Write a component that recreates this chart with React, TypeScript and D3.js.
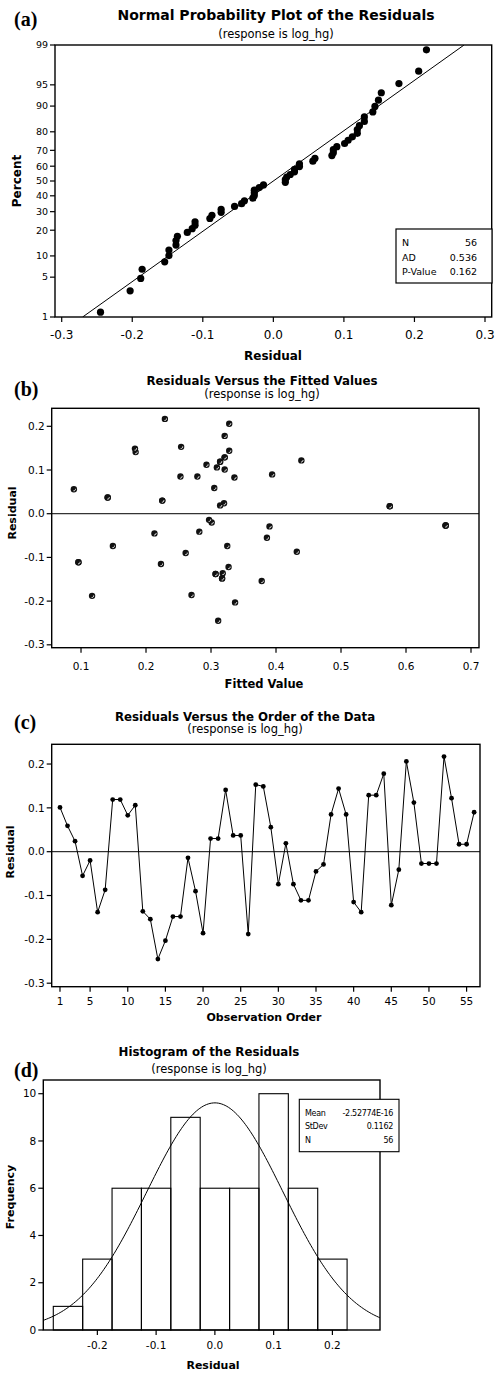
import React from "react";
import * as d3 from "d3";

// ---- data ----
const residuals = [
  0.101, 0.059, 0.024, -0.055, -0.020, -0.138, -0.087, 0.119, 0.119, 0.083,
  0.106, -0.136, -0.154, -0.245, -0.203, -0.148, -0.148, -0.014, -0.090, -0.186,
  0.030, 0.030, 0.141, 0.037, 0.037, -0.188, 0.153, 0.149, 0.056, -0.074,
  0.019, -0.074, -0.111, -0.111, -0.045, -0.029, 0.085, 0.144, 0.085, -0.115,
  -0.138, 0.129, 0.129, 0.178, -0.122, -0.041, 0.206, 0.112, -0.027, -0.027,
  -0.027, 0.217, 0.122, 0.017, 0.017, 0.090,
];
const fitted = [
  0.321, 0.305, 0.320, 0.386, 0.301, 0.307, 0.432, 0.314, 0.314, 0.336,
  0.309, 0.318, 0.378, 0.311, 0.337, 0.317, 0.317, 0.297, 0.261, 0.270,
  0.225, 0.225, 0.184, 0.141, 0.141, 0.117, 0.254, 0.183, 0.089, 0.149,
  0.314, 0.325, 0.096, 0.096, 0.213, 0.390, 0.253, 0.328, 0.279, 0.223,
  0.307, 0.321, 0.321, 0.321, 0.327, 0.282, 0.328, 0.293, 0.661, 0.661,
  0.661, 0.229, 0.439, 0.575, 0.575, 0.394,
];
const histMids = [-0.25, -0.2, -0.15, -0.1, -0.05, 0.0, 0.05, 0.1, 0.15, 0.2];
const histCounts = [1, 3, 6, 6, 9, 6, 6, 10, 6, 3];
const probTicks = [1, 5, 10, 20, 30, 40, 50, 60, 70, 80, 90, 95, 99];
const residTicksA = [-0.3, -0.2, -0.1, 0.0, 0.1, 0.2, 0.3];
const residTicksY = [-0.3, -0.2, -0.1, 0.0, 0.1, 0.2];
const fittedTicks = [0.1, 0.2, 0.3, 0.4, 0.5, 0.6, 0.7];
const orderTicks = [1, 5, 10, 15, 20, 25, 30, 35, 40, 45, 50, 55];
const freqTicks = [0, 2, 4, 6, 8, 10];
const histTicks = [-0.2, -0.1, 0.0, 0.1, 0.2];
const statsA = [["N", "56"], ["AD", "0.536"], ["P-Value", "0.162"]];
const statsD = [["Mean", "-2.52774E-16"], ["StDev", "0.1162"], ["N", "56"]];
const fitMean = 0;
const fitSd = 0.1162;
const binWidth = 0.05;

// inverse standard normal CDF (Acklam)
function probit(p: number): number {
  const a = [-39.69683028665376, 220.9460984245205, -275.9285104469687, 138.357751867269, -30.66479806614716, 2.506628277459239];
  const b = [-54.47609879822406, 161.5858368580409, -155.6989798598866, 66.80131188771972, -13.28068155288572];
  const c = [-0.007784894002430293, -0.3223964580411365, -2.400758277161838, -2.549732539343734, 4.374664141464968, 2.938163982698783];
  const d = [0.007784695709041462, 0.3224671290700398, 2.445134137142996, 3.754408661907416];
  const pl = 0.02425;
  let q, r;
  if (p < pl) {
    q = Math.sqrt(-2 * Math.log(p));
    return (((((c[0] * q + c[1]) * q + c[2]) * q + c[3]) * q + c[4]) * q + c[5]) / ((((d[0] * q + d[1]) * q + d[2]) * q + d[3]) * q + 1);
  } else if (p <= 1 - pl) {
    q = p - 0.5; r = q * q;
    return (((((a[0] * r + a[1]) * r + a[2]) * r + a[3]) * r + a[4]) * r + a[5]) * q / (((((b[0] * r + b[1]) * r + b[2]) * r + b[3]) * r + b[4]) * r + 1);
  } else {
    q = Math.sqrt(-2 * Math.log(1 - p));
    return -(((((c[0] * q + c[1]) * q + c[2]) * q + c[3]) * q + c[4]) * q + c[5]) / ((((d[0] * q + d[1]) * q + d[2]) * q + d[3]) * q + 1);
  }
}

const SANS = "'DejaVu Sans', Verdana, sans-serif";
const SERIF = "'Liberation Serif', 'Times New Roman', serif";

function Titles({ cx, title, tSize, tY, subY, tag, tagY }: any) {
  return (
    <g>
      <text x={cx} y={tY} textAnchor="middle" fontFamily={SANS} fontWeight="bold" fontSize={tSize}>{title}</text>
      <text x={cx} y={subY} textAnchor="middle" fontFamily={SANS} fontSize={11.5}>(response is log_hg)</text>
      <text x={14} y={tagY} fontFamily={SERIF} fontWeight="bold" fontSize={20}>{tag}</text>
    </g>
  );
}

function Frame({ L, R, T, B }: any) {
  return <rect x={L} y={T} width={R - L} height={B - T} fill="none" stroke="#000" strokeWidth={1.4} />;
}

function XTicks({ scale, ticks, B, fmt, size, labY }: any) {
  return (
    <g>
      {ticks.map((t: number) => (
        <g key={t}>
          <line x1={scale(t)} x2={scale(t)} y1={B} y2={B + 5} stroke="#000" strokeWidth={1.2} />
          <text x={scale(t)} y={labY} textAnchor="middle" fontFamily={SANS} fontSize={size}>{fmt(t)}</text>
        </g>
      ))}
    </g>
  );
}

function YTicks({ scale, ticks, L, fmt, size, labels }: any) {
  return (
    <g>
      {ticks.map((t: number, i: number) => (
        <g key={t}>
          <line x1={L - 5} x2={L} y1={scale(t)} y2={scale(t)} stroke="#000" strokeWidth={1.2} />
          <text x={L - 7} y={scale(t)} dy="0.35em" textAnchor="end" fontFamily={SANS} fontSize={size}>{labels ? labels[i] : fmt(t)}</text>
        </g>
      ))}
    </g>
  );
}

const f1 = (t: number) => (t < 0 ? "-" : "") + Math.abs(t).toFixed(1);

function PanelA() {
  const L = 55, R = 491.7, T = 45, B = 317;
  const x = d3.scaleLinear().domain([-0.3095, 0.3095]).range([L, R]);
  const zMax = probit(0.99);
  const y = d3.scaleLinear().domain([-zMax, zMax]).range([B, T]);
  const sorted = residuals.slice().sort((a, b) => a - b);
  const n = sorted.length;
  const pts = sorted.map((r, i) => ({ r, z: probit((i + 1 - 0.3) / (n + 0.4)) }));
  const line = d3.line<number>().x((z) => x(fitMean + fitSd * z)).y((z) => y(z));
  return (
    <g>
      <Titles cx={276} title="Normal Probability Plot of the Residuals" tSize={14} tY={20} subY={38} tag="(a)" tagY={26} />
      <defs>
        <clipPath id="clipA"><rect x={L} y={T} width={R - L} height={B - T} /></clipPath>
      </defs>
      <path d={line([-zMax, zMax]) || ""} fill="none" stroke="#000" strokeWidth={1} clipPath="url(#clipA)" />
      {pts.map((p, i) => (
        <circle key={i} cx={x(p.r)} cy={y(p.z)} r={3.6} fill="#000" />
      ))}
      <Frame L={L} R={R} T={T} B={B} />
      <XTicks scale={x} ticks={residTicksA} B={B} fmt={f1} size={12} labY={339} />
      <YTicks scale={(p: number) => y(probit(p / 100))} ticks={probTicks} L={L} fmt={(t: number) => String(t)} size={9.5} />
      <text x={273} y={360} textAnchor="middle" fontFamily={SANS} fontWeight="bold" fontSize={12}>Residual</text>
      <text transform={`translate(21,181) rotate(-90)`} textAnchor="middle" fontFamily={SANS} fontWeight="bold" fontSize={12}>Percent</text>
      <rect x={396} y={229} width={96} height={54} fill="#fff" stroke="#000" strokeWidth={1.2} />
      {statsA.map((s, i) => (
        <g key={i}>
          <text x={402} y={246 + i * 14.5} fontFamily={SANS} fontSize={9.5}>{s[0]}</text>
          <text x={477} y={246 + i * 14.5} textAnchor="end" fontFamily={SANS} fontSize={9.5}>{s[1]}</text>
        </g>
      ))}
    </g>
  );
}

function PanelB() {
  const L = 51.7, R = 479, T = 408.3, B = 647.7;
  const x = d3.scaleLinear().domain([0.0549, 0.7123]).range([L, R]);
  const y = d3.scaleLinear().domain([-0.3066, 0.2412]).range([B, T]);
  return (
    <g>
      <Titles cx={262} title="Residuals Versus the Fitted Values" tSize={11.8} tY={385} subY={398} tag="(b)" tagY={396} />
      <line x1={L} x2={R} y1={y(0)} y2={y(0)} stroke="#000" strokeWidth={1} />
      {fitted.map((f, i) => {
        const cx = x(f), cy = y(residuals[i]);
        return (
          <g key={i}>
            <circle cx={cx} cy={cy} r={3.2} fill="#111" />
            <path d={`M${cx + 1.6},${cy - 0.4} A1.7,1.7 0 0 1 ${cx - 0.4},${cy + 1.6}`} fill="none" stroke="#fff" strokeWidth={0.9} />
          </g>
        );
      })}
      <Frame L={L} R={R} T={T} B={B} />
      <XTicks scale={x} ticks={fittedTicks} B={B} fmt={f1} size={10.5} labY={670} />
      <YTicks scale={y} ticks={residTicksY} L={L} fmt={f1} size={10.5} />
      <text x={264} y={688} textAnchor="middle" fontFamily={SANS} fontWeight="bold" fontSize={11.5}>Fitted Value</text>
      <text transform={`translate(16,513) rotate(-90)`} textAnchor="middle" fontFamily={SANS} fontWeight="bold" fontSize={11}>Residual</text>
    </g>
  );
}

function PanelC() {
  const L = 51.7, R = 480, T = 744.3, B = 986.7;
  const x = d3.scaleLinear().domain([-0.1, 56.78]).range([L, R]);
  const y = d3.scaleLinear().domain([-0.308, 0.245]).range([B, T]);
  const line = d3.line<number>().x((_, i) => x(i + 1)).y((r) => y(r));
  return (
    <g>
      <Titles cx={245} title="Residuals Versus the Order of the Data" tSize={11.8} tY={721} subY={733} tag="(c)" tagY={729} />
      <line x1={L} x2={R} y1={y(0)} y2={y(0)} stroke="#000" strokeWidth={1} />
      <path d={line(residuals) || ""} fill="none" stroke="#000" strokeWidth={1} />
      {residuals.map((r, i) => (
        <circle key={i} cx={x(i + 1)} cy={y(r)} r={2.4} fill="#000" />
      ))}
      <Frame L={L} R={R} T={T} B={B} />
      <XTicks scale={x} ticks={orderTicks} B={B} fmt={(t: number) => String(t)} size={10.5} labY={1005} />
      <YTicks scale={y} ticks={residTicksY} L={L} fmt={f1} size={10.5} />
      <text x={264} y={1021} textAnchor="middle" fontFamily={SANS} fontWeight="bold" fontSize={11}>Observation Order</text>
      <text transform={`translate(14,852) rotate(-90)`} textAnchor="middle" fontFamily={SANS} fontWeight="bold" fontSize={11}>Residual</text>
    </g>
  );
}

function PanelD() {
  const L = 43.3, R = 380, T = 1080, B = 1330;
  const x = d3.scaleLinear().domain([-0.292, 0.281]).range([L, R]);
  const y = d3.scaleLinear().domain([0, 10.58]).range([B, T]);
  const n = residuals.length;
  const pdf = (v: number) => Math.exp(-0.5 * ((v - fitMean) / fitSd) ** 2) / (fitSd * Math.sqrt(2 * Math.PI));
  const xs = d3.range(0, 201).map((i) => -0.292 + (i / 200) * (0.281 + 0.292));
  const curve = d3.line<number>().x((v) => x(v)).y((v) => y(n * binWidth * pdf(v))).curve(d3.curveBasis);
  return (
    <g>
      <text x={209} y={1056} textAnchor="middle" fontFamily={SANS} fontWeight="bold" fontSize={11.8}>Histogram of the Residuals</text>
      <text x={209} y={1073} textAnchor="middle" fontFamily={SANS} fontSize={11.5}>(response is log_hg)</text>
      <text x={14} y={1077} fontFamily={SERIF} fontWeight="bold" fontSize={20}>(d)</text>
      {histMids.map((m, i) => (
        <rect key={i} x={x(m - binWidth / 2)} y={y(histCounts[i])} width={x(m + binWidth / 2) - x(m - binWidth / 2)} height={B - y(histCounts[i])} fill="none" stroke="#000" strokeWidth={1.1} />
      ))}
      <path d={curve(xs) || ""} fill="none" stroke="#000" strokeWidth={1} />
      <Frame L={L} R={R} T={T} B={B} />
      <XTicks scale={x} ticks={histTicks} B={B} fmt={f1} size={10.5} labY={1349} />
      <YTicks scale={y} ticks={freqTicks} L={L} fmt={(t: number) => String(t)} size={10.5} />
      <text x={213} y={1369} textAnchor="middle" fontFamily={SANS} fontWeight="bold" fontSize={11}>Residual</text>
      <text transform={`translate(14,1197) rotate(-90)`} textAnchor="middle" fontFamily={SANS} fontWeight="bold" fontSize={11}>Frequency</text>
      <rect x={299.3} y={1099.3} width={99.7} height={52.4} fill="#fff" stroke="#000" strokeWidth={1.1} />
      {statsD.map((s, i) => (
        <g key={i}>
          <text x={305} y={1116 + i * 13.3} fontFamily={SANS} fontSize={8} letterSpacing={-0.3}>{s[0]}</text>
          <text x={393} y={1116 + i * 13.3} textAnchor="end" fontFamily={SANS} fontSize={8} letterSpacing={-0.3}>{s[1]}</text>
        </g>
      ))}
    </g>
  );
}

export default function App() {
  return (
    <svg width={496} height={1373} style={{ position: "absolute", left: 0, top: 0, background: "#fff" }}>
      <rect x={0} y={0} width={496} height={1373} fill="#fff" />
      <PanelA />
      <PanelB />
      <PanelC />
      <PanelD />
    </svg>
  );
}
